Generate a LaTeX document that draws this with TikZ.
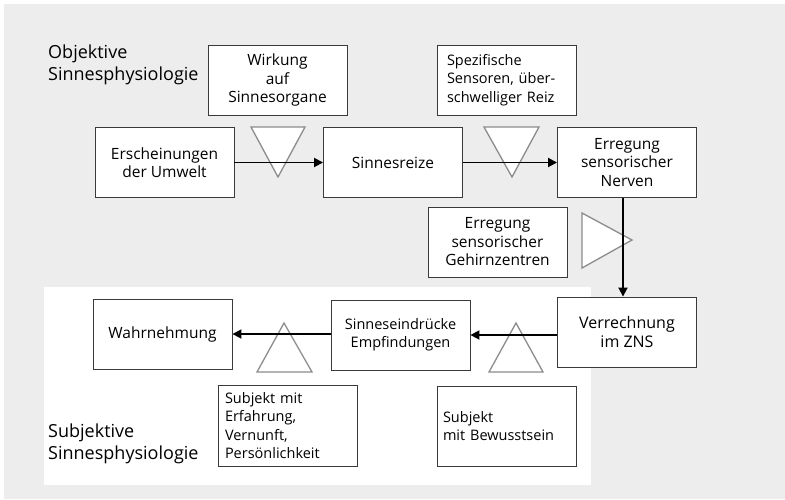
\documentclass[tikz,border=0pt]{standalone}
\usepackage{fontspec}
\setmainfont{Open Sans}
\usetikzlibrary{arrows.meta}
\definecolor{bggray}{HTML}{EDEDED}
\definecolor{boxline}{HTML}{3A3A3A}
\definecolor{triline}{HTML}{8C8C8C}
\tikzset{
  box/.style={rectangle, fill=white, draw=boxline, line width=0.9pt, minimum width=139pt, minimum height=70pt, align=center, inner sep=0pt, font=\fontsize{15.5}{18.5}\selectfont},
  smallbox/.style={box, font=\fontsize{14.5}{18.5}\selectfont},
  leftbox/.style={smallbox, text width=125pt, align=left, inner xsep=7pt},
  label/.style={anchor=west, inner sep=0pt, align=left, font=\fontsize{18}{21.5}\selectfont},
  tri/.style={fill=white, draw=triline, line width=1.3pt, line join=miter},
  flow/.style={line width=1.8pt, -{Triangle[length=9pt,width=9pt]}}
}
\begin{document}
\begin{tikzpicture}[x=1pt,y=-1pt]
\useasboundingbox (0,0) rectangle (785,499);
\fill [bggray] (4,4) rectangle (785,499);
\fill [white] (44,287) rectangle (591,485);
% labels
\node [label] (obj) at (48,65) {Objektive\\Sinnesphysiologie};
\node [label] (subj) at (48,444) {Subjektive\\Sinnesphysiologie};
% upper row
\node [box] (wirkung) at (277.5,80) {Wirkung\\auf\\Sinnesorgane};
\node [leftbox, inner xsep=10pt, text width=119pt] (sensoren) at (506.5,80) {Spezifische\\Sensoren, über-\\schwelliger Reiz};
\node [box] (umwelt) at (164.5,162.5) {Erscheinungen\\der Umwelt};
\node [box] (reize) at (393,162.5) {Sinnesreize};
\node [box] (nerven) at (627,162.5) {Erregung\\sensorischer\\Nerven};
\node [box] (zentren) at (497.5,242) {Erregung\\sensorischer\\Gehirnzentren};
% lower row
\node [box, font=\fontsize{16}{19}\selectfont] (zns) at (627,332) {Verrechnung\\im ZNS};
\node [smallbox, font=\fontsize{14.5}{18}\selectfont] (eindruck) at (400.5,335) {Sinneseindrücke\\Empfindungen};
\node [box] (wahr) at (162.5,334) {Wahrnehmung};
\node [leftbox, minimum height=81pt] (erfahrung) at (287.5,425.5) {Subjekt mit\\Erfahrung,\\Vernunft,\\Persönlichkeit};
\node [leftbox, minimum height=80pt, inner xsep=6pt, text width=127pt] (bewusst) at (506.5,426) {Subjekt\\mit Bewusstsein};
% triangles
\draw [tri] (251,127) -- (305,127) -- (278,177) -- cycle;
\draw [tri] (484,127) -- (539,127) -- (512,177) -- cycle;
\draw [tri] (582,213) -- (582,268) -- (632,240) -- cycle;
\draw [tri] (489,372) -- (543,372) -- (516,323) -- cycle;
\draw [tri] (257,372) -- (312,372) -- (284,323) -- cycle;
% arrows
\draw [flow] (umwelt) -- (reize);
\draw [flow] (reize) -- (nerven);
\draw [flow] ([xshift=-4pt]nerven.south) -- ([xshift=-4pt]zns.north);
\draw [flow] (zns.west |- eindruck.east) -- (eindruck.east);
\draw [flow] (eindruck.west |- wahr.east) -- (wahr.east);
\end{tikzpicture}
\end{document}
